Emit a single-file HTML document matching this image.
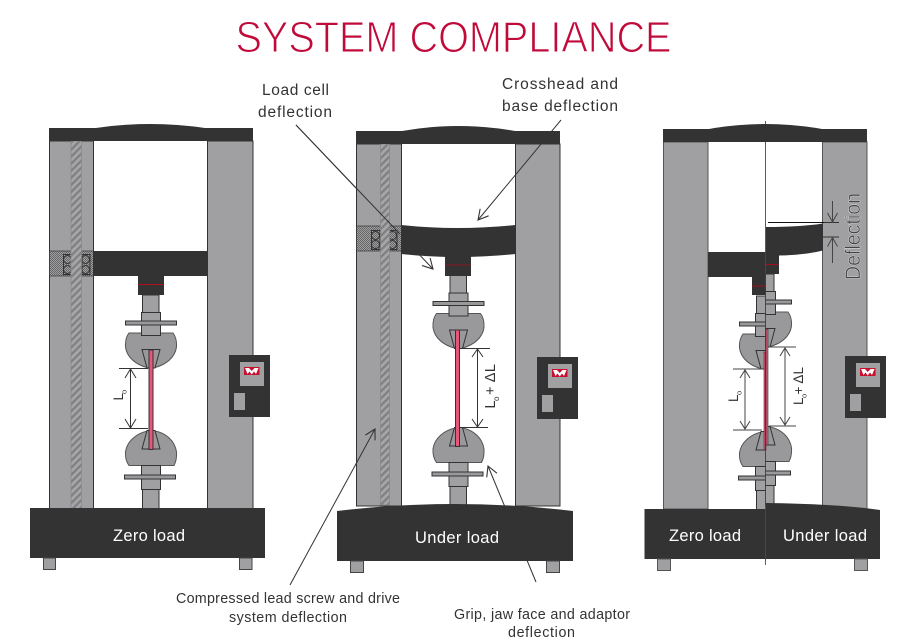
<!DOCTYPE html>
<html><head><meta charset="utf-8"><style>
html,body{margin:0;padding:0;background:#fff}
svg{display:block}
text{font-family:"Liberation Sans",sans-serif}
</style></head><body>
<svg width="919" height="643" viewBox="0 0 919 643" xmlns="http://www.w3.org/2000/svg">
<defs>
<pattern id="hatch" width="5" height="5" patternUnits="userSpaceOnUse" patternTransform="rotate(-45)">
<rect width="5" height="5" fill="#a6a6a9"/><rect width="5" height="2.200" fill="#7f7f82"/></pattern>
<pattern id="stip" width="2" height="2" patternUnits="userSpaceOnUse">
<rect width="2" height="2" fill="#a0a0a3"/><rect width="1" height="1" fill="#666"/><rect x="1" y="1" width="1" height="1" fill="#666"/></pattern>
<marker id="a" markerWidth="14" markerHeight="14" refX="11" refY="7" orient="auto" markerUnits="userSpaceOnUse">
<path d="M1 1.500L11 7L1 12.500" fill="none" stroke="#333" stroke-width="1.100"/></marker>
<clipPath id="cl"><rect x="600" y="0" width="165.500" height="643"/></clipPath>
<clipPath id="cr"><rect x="765.500" y="0" width="150" height="643"/></clipPath>
<g id="up" stroke="#333" stroke-width="1">
<rect x="142.500" y="295" width="16.500" height="18" fill="#a0a0a3"/>
<path d="M129 333H173Q177 338 176.500 347C175 358 165 365 155 367.500H147C137 365 127 358 125.500 347Q125 338 129 333Z" fill="#99999c" stroke="#555"/>
<rect x="141.500" y="312.500" width="19" height="23" fill="#a0a0a3"/>
<rect x="125.500" y="321" width="51" height="4" fill="#99999c"/>
<path d="M142 349.500H160L155 368H147Z" fill="#99999c"/>
</g>
<g id="lo" stroke="#333" stroke-width="1">
<rect x="142.500" y="489" width="16.500" height="20" fill="#a0a0a3"/>
<path d="M148 431H155C166 433 175 441 176.500 452Q177 460 174 465.500H129Q125 460 125.500 452C127 441 137 433 148 431Z" fill="#99999c" stroke="#555"/>
<rect x="141.500" y="465.500" width="19" height="24" fill="#a0a0a3"/>
<rect x="124.500" y="475" width="51" height="4" fill="#99999c"/>
<path d="M147 430.500H155L160 449H142Z" fill="#99999c"/>
</g>
<g id="box">
<rect x="0" y="0" width="41" height="62" fill="#333"/>
<rect x="11" y="7" width="24" height="24" fill="#a0a0a3"/>
<rect x="15" y="12" width="15.500" height="8" fill="#c8102e"/>
<path d="M16 13L20 13L22.700 16L25.500 13L29.500 13L27 19L25 16.500L22.700 19.500L20.500 16.500L18.500 19Z" fill="#fff"/>
<rect x="5" y="38" width="11" height="17" fill="#a0a0a3"/>
</g>
</defs>

<text x="453.500" y="52" font-size="44" fill="#c00a3a" stroke="#fff" stroke-width="1.100" text-anchor="middle" textLength="436" lengthAdjust="spacingAndGlyphs">SYSTEM COMPLIANCE</text>

<!-- LEFT MACHINE -->
<g stroke="#333" stroke-width="1">
<rect x="49.500" y="141" width="44" height="368" fill="#a0a0a3"/>
<rect x="207.500" y="141" width="45.500" height="368" fill="#a0a0a3"/>
<rect x="49.500" y="251" width="44" height="25" fill="url(#stip)" stroke-width="0.700"/>
<g fill="none" stroke-width="1"><rect x="63.500" y="254.500" width="8" height="20"/><rect x="82" y="254.500" width="8" height="20"/>
<circle cx="67.500" cy="259.500" r="4"/><circle cx="67.500" cy="269.500" r="4"/><circle cx="85.500" cy="259.500" r="4"/><circle cx="85.500" cy="269.500" r="4"/></g>
</g>
<rect x="71" y="141" width="10.500" height="368" fill="url(#hatch)" stroke="#888" stroke-width="0.700"/>
<path d="M49 128H96Q150 120 205 128H253V141H49Z" fill="#333"/>
<rect x="93" y="251" width="114.500" height="25" fill="#333"/>
<rect x="138" y="276" width="26" height="19" fill="#333"/>
<line x1="138" x2="164" y1="284.500" y2="284.500" stroke="#b01020" stroke-width="1"/>
<use href="#up"/><use href="#lo"/>
<rect x="149" y="350" width="4" height="99.500" fill="#e8557a" stroke="#333"/>
<g stroke="#333" stroke-width="1" fill="none">
<path d="M119 368.500H148M119 428.500H148"/>
<line x1="130.500" y1="369" x2="130.500" y2="428"/>
<path d="M125 378L130.500 369L136 378M125 419L130.500 428L136 419"/>
</g>
<rect x="30" y="508" width="235" height="50" fill="#333"/>
<rect x="43.500" y="558" width="12" height="11.500" fill="#a0a0a3" stroke="#444"/>
<rect x="239.500" y="558" width="12.500" height="11.500" fill="#a0a0a3" stroke="#444"/>
<use href="#box" x="229" y="355"/>
<text x="149" y="541" font-size="16.500" fill="#fff" text-anchor="middle" textLength="72">Zero load</text>
<text transform="translate(123,400.500) rotate(-90)" font-size="13.500" fill="#333">L</text>
<text transform="translate(126.500,394) rotate(-90)" font-size="7.500" fill="#333">o</text>

<!-- MIDDLE MACHINE -->
<line x1="296" y1="125" x2="433" y2="269" stroke="#333" stroke-width="1" marker-end="url(#a)"/>
<g stroke="#333" stroke-width="1">
<rect x="356.500" y="144" width="45" height="362" fill="#a0a0a3"/>
<rect x="515.500" y="144" width="44.500" height="362" fill="#a0a0a3"/>
<rect x="356.500" y="226" width="45" height="25" fill="url(#stip)" stroke-width="0.700"/>
<g fill="none"><rect x="371.500" y="230.500" width="8.500" height="19"/><rect x="389" y="230.500" width="8" height="19"/>
<circle cx="375.500" cy="235.500" r="4"/><circle cx="375.500" cy="244.500" r="4"/><circle cx="392.500" cy="235.500" r="4"/><circle cx="392.500" cy="244.500" r="4"/></g>
</g>
<rect x="380.500" y="144" width="9" height="361" fill="url(#hatch)" stroke="#888" stroke-width="0.700"/>
<line x1="296" y1="125" x2="400" y2="234" stroke="#333" stroke-width="1"/>
<path d="M356 131H402Q458 121 515 131H560V144H356Z" fill="#333"/>
<path d="M401 225Q458 231 515.500 225V254Q458 260 401 254Z" fill="#333"/>
<rect x="445" y="256" width="26" height="20" fill="#333"/>
<line x1="445" x2="471" y1="265" y2="265" stroke="#a01020" stroke-width="0.800"/>
<use href="#up" x="307.500" y="-19.500"/><use href="#lo" x="307.500" y="-3"/>
<rect x="455.500" y="330" width="4" height="116.500" fill="#e8557a" stroke="#333"/>
<g stroke="#333" stroke-width="1" fill="none">
<path d="M460 348.500H490M460 427.500H488"/>
<line x1="477.500" y1="349" x2="477.500" y2="427"/>
<path d="M472 357L477.500 349L483 357M472 419L477.500 427L483 419"/>
</g>
<line x1="290" y1="585" x2="375" y2="429" stroke="#333" stroke-width="1" marker-end="url(#a)"/>
<line x1="536" y1="582" x2="488" y2="466" stroke="#333" stroke-width="1" marker-end="url(#a)"/>
<line x1="561" y1="120" x2="478" y2="220" stroke="#333" stroke-width="1" marker-end="url(#a)"/>
<path d="M337 511Q455 497 573 511V561H337Z" fill="#333"/>
<rect x="350.500" y="561" width="13" height="11.500" fill="#a0a0a3" stroke="#444"/>
<rect x="546.500" y="561" width="13" height="11.500" fill="#a0a0a3" stroke="#444"/>
<use href="#box" x="537" y="357"/>
<text x="457" y="543" font-size="16.500" fill="#fff" text-anchor="middle" textLength="84">Under load</text>
<text transform="translate(495,408.500) rotate(-90)" font-size="14.500" fill="#333">L</text>
<text transform="translate(499,401) rotate(-90)" font-size="8" fill="#333">o</text>
<text transform="translate(495,395) rotate(-90)" font-size="14.500" fill="#333" textLength="31">+ ΔL</text>

<!-- RIGHT MACHINE -->
<g stroke="#555" stroke-width="1">
<rect x="663.500" y="142" width="44.500" height="367" fill="#a0a0a3"/>
<rect x="822.500" y="142" width="44.500" height="367" fill="#a0a0a3"/>
</g>
<path d="M663 129H709Q765 119 822 129H867V142H663Z" fill="#333"/>
<rect x="708" y="252" width="57.500" height="25" fill="#333"/>
<rect x="752" y="277" width="13.500" height="18" fill="#333"/>
<line x1="752" x2="765" y1="286" y2="286" stroke="#a01020"/>
<path d="M766 227Q800 227 823 223.500V250.500Q805 255 779 255.500V274H766Z" fill="#333"/>
<line x1="766" x2="779" y1="264.500" y2="264.500" stroke="#a01020"/>
<g clip-path="url(#cl)"><use href="#up" x="614" y="1"/><use href="#lo" x="614" y="1"/></g>
<g clip-path="url(#cr)"><use href="#up" x="615" y="-21"/><use href="#lo" x="615" y="-4"/></g>
<rect x="764" y="352" width="2" height="98" fill="#e8557a" stroke="#333" stroke-width="0.600"/>
<rect x="766" y="329" width="2" height="116" fill="#e8557a" stroke="#333" stroke-width="0.600"/>
<g stroke="#444" stroke-width="1" fill="none">
<path d="M733 369H762M733 430H762M769 347H796M769 426H796"/>
<line x1="745" y1="370" x2="745" y2="429"/>
<path d="M740 378L745 370L750 378M740 421L745 429L750 421"/>
<line x1="785" y1="348" x2="785" y2="425"/>
<path d="M780 356L785 348L790 356M780 417L785 425L790 417"/>
<path d="M823 237H839M823 222.500H839" stroke="#333"/>
<line x1="832.500" y1="201" x2="832.500" y2="222"/>
<line x1="832.500" y1="237.500" x2="832.500" y2="263"/>
<path d="M827.500 213L832.500 222L837.500 213M827.500 246.500L832.500 237.500L837.500 246.500"/>
</g>
<line x1="768" y1="222.500" x2="824" y2="222.500" stroke="#111" stroke-width="1"/>
<path d="M644.500 509H765.500V559H644.500Z" fill="#333"/>
<path d="M766 503Q840 504 880 510V559H766Z" fill="#333"/>
<rect x="657.500" y="559" width="13" height="11.500" fill="#a0a0a3" stroke="#555"/>
<rect x="854.500" y="559" width="13" height="11.500" fill="#a0a0a3" stroke="#555"/>
<use href="#box" x="845" y="356"/>
<line x1="765.500" y1="121" x2="765.500" y2="565" stroke="#333" stroke-width="0.800"/>
<text x="705" y="541" font-size="16.500" fill="#fff" text-anchor="middle" textLength="72">Zero load</text>
<text x="825" y="541" font-size="16.500" fill="#fff" text-anchor="middle" textLength="84">Under load</text>
<text transform="translate(738,402) rotate(-90)" font-size="13.500" fill="#333">L</text>
<text transform="translate(741.500,395) rotate(-90)" font-size="7.500" fill="#333">o</text>
<text transform="translate(803,405) rotate(-90)" font-size="13.500" fill="#333">L</text>
<text transform="translate(806.500,398) rotate(-90)" font-size="7.500" fill="#333">o</text>
<text transform="translate(803,394.500) rotate(-90)" font-size="13.500" fill="#333" textLength="27.500">+ ΔL</text>
<text transform="translate(860,280) rotate(-90)" font-size="21" fill="#444" stroke="#fff" stroke-width="0.300" textLength="87" lengthAdjust="spacingAndGlyphs">Deflection</text>

<!-- LABELS -->
<g fill="#333" text-anchor="middle">
<text x="295.500" y="95" font-size="15.500" textLength="67">Load cell</text>
<text x="295" y="117" font-size="15.500" textLength="74">deflection</text>
<text x="560" y="89" font-size="15.500" textLength="116">Crosshead and</text>
<text x="560" y="111" font-size="15.500" textLength="116">base deflection</text>
<text x="288" y="603" font-size="14.300" textLength="224">Compressed lead screw and drive</text>
<text x="288" y="622" font-size="14.300" textLength="118">system deflection</text>
<text x="542" y="619" font-size="14.300" textLength="176">Grip, jaw face and adaptor</text>
<text x="541.500" y="637" font-size="14.300" textLength="67">deflection</text>
</g>
</svg>
</body></html>
